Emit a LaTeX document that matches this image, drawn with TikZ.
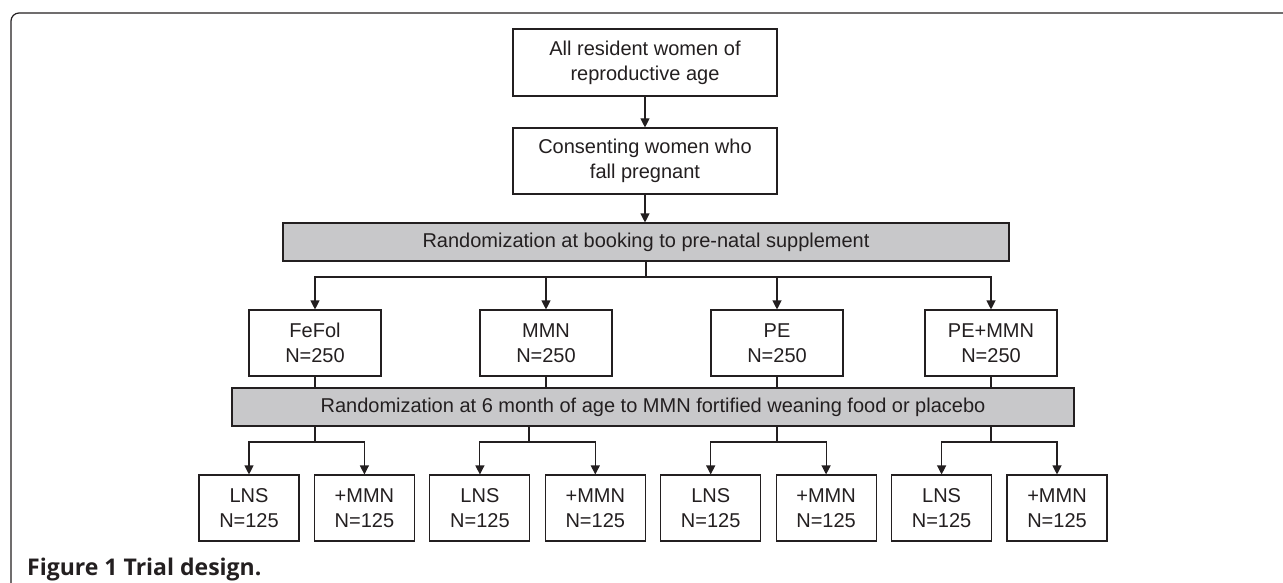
\documentclass[tikz,border=0pt]{standalone}
\usepackage{fontspec}
\setmainfont{Liberation Sans}
\newfontfamily\capfont{Open Sans}
\usetikzlibrary{arrows.meta}
\definecolor{ink}{HTML}{231F20}
\definecolor{bandgray}{HTML}{C8C8CA}
\tikzset{
  boxstyle/.style={draw=ink, line width=1.1pt, fill=white, inner sep=0pt, align=center,
    text=ink, font=\fontsize{20}{25}\selectfont},
  bandstyle/.style={boxstyle, fill=bandgray},
  conn/.style={draw=ink, line width=1.1pt},
  arr/.style={conn, -{Triangle[length=9pt,width=9pt]}},
}
\begin{document}
\begin{tikzpicture}[x=1pt,y=-1pt]
\useasboundingbox (0,0) rectangle (1283,583);
% frame
\draw[ink, line width=1.2pt, rounded corners=8pt] (11,590) -- (11,13) -- (1295,13);
% top boxes
\node[boxstyle, minimum width=264pt, minimum height=67pt] (b1) at (645,62.5) {All resident women of\\reproductive age};
\node[boxstyle, minimum width=264pt, minimum height=66pt] (b2) at (645,161) {Consenting women who\\fall pregnant};
\node[bandstyle, minimum width=726pt, minimum height=38pt] (band1) at (646,242) {Randomization at booking to pre-natal supplement};
% supplement arms
\node[boxstyle, minimum width=132pt, minimum height=66pt] (a1) at (315,343) {FeFol\\N=250};
\node[boxstyle, minimum width=132pt, minimum height=66pt] (a2) at (546,343) {MMN\\N=250};
\node[boxstyle, minimum width=132pt, minimum height=66pt] (a3) at (777,343) {PE\\N=250};
\node[boxstyle, minimum width=132pt, minimum height=66pt] (a4) at (991,343) {PE+MMN\\N=250};
\node[bandstyle, minimum width=842pt, minimum height=38pt] (band2) at (653,407) {Randomization at 6 month of age to MMN fortified weaning food or placebo};
% bottom row
\foreach \i/\x/\t in {1/249/LNS, 2/364.4/+MMN, 3/479.9/LNS, 4/595.3/+MMN, 5/710.7/LNS, 6/826.1/+MMN, 7/941.6/LNS, 8/1057/+MMN}{
  \node[boxstyle, minimum width=100pt, minimum height=66pt] (c\i) at (\x,508) {\t\\N=125};
}
% connectors
\draw[arr] (b1) -- (b2);
\draw[arr] (b2) -- (b2.south |- band1.north);
\coordinate (h1) at (646,277);
\draw[conn] (band1.south) -- (h1);
\foreach \a in {a1,a2,a3,a4}{
  \draw[arr] (h1) -| (\a.north);
  \draw[conn] (\a.south) -- (\a.south |- band2.north);
}
\coordinate (p1) at (315,442);
\coordinate (p2) at (529,442);
\coordinate (p3) at (777,442);
\coordinate (p4) at (991,442);
\foreach \p/\l/\r in {p1/c1/c2, p2/c3/c4, p3/c5/c6, p4/c7/c8}{
  \draw[conn] (\p |- band2.south) -- (\p);
  \draw[arr] (\p) -| (\l.north);
  \draw[arr] (\p) -| (\r.north);
}
% caption
\node[anchor=base west, inner sep=0pt, text=ink] (cap) at (27,575) {\capfont\bfseries\fontsize{23}{27}\selectfont Figure 1 Trial design.};
\end{tikzpicture}
\end{document}
